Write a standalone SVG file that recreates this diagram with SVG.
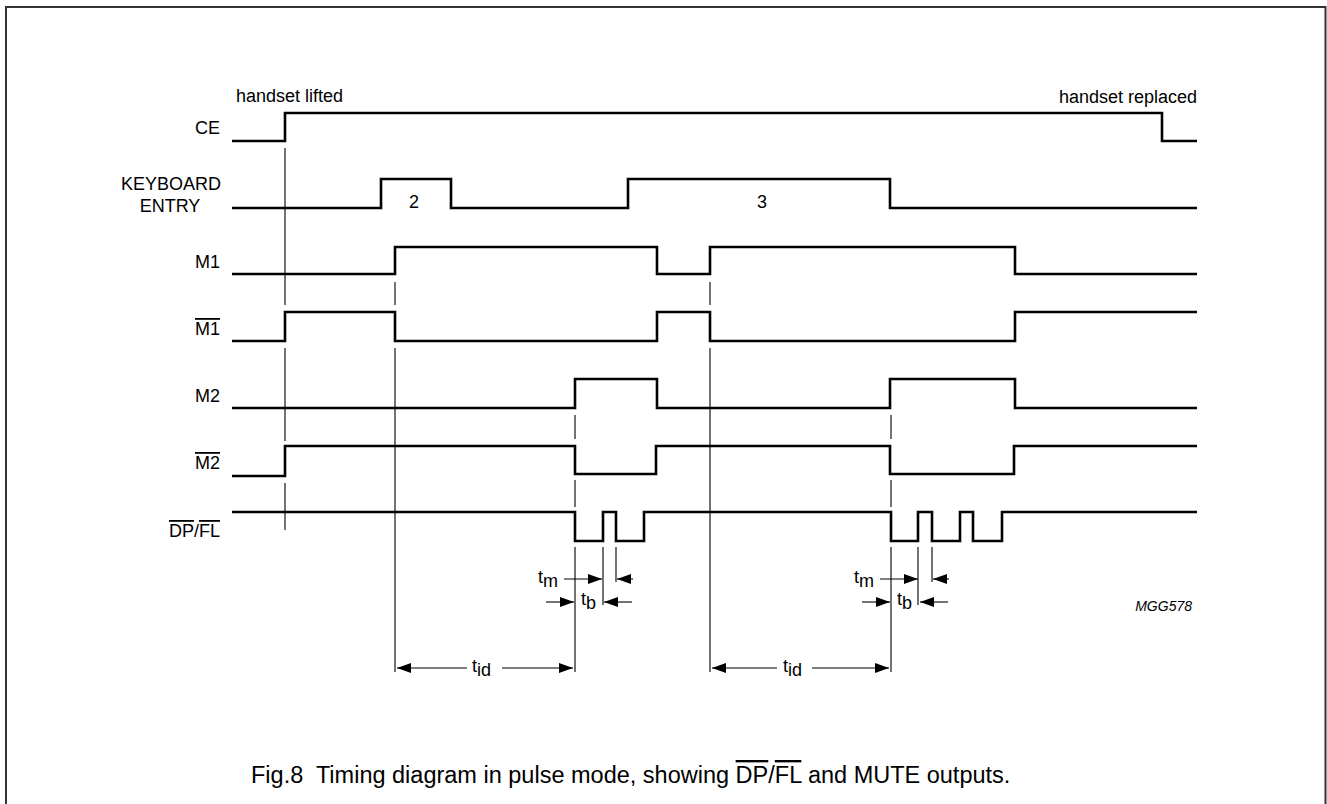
<svg xmlns="http://www.w3.org/2000/svg" width="1327" height="804" viewBox="0 0 1327 804">
<style>
text{font-family:"Liberation Sans",Arial,sans-serif;fill:#000}
.lbl{font-size:18px;text-anchor:end}
.sig{fill:none;stroke:#000;stroke-width:2.6;stroke-linejoin:miter}
.thin{fill:none;stroke:#000;stroke-width:1.1}
.ov{text-decoration:overline}
.cap{font-size:23.5px;white-space:pre}
</style>
<defs>
<marker id="ah" viewBox="0 0 14 10" refX="14" refY="5" markerWidth="14" markerHeight="10" markerUnits="userSpaceOnUse" orient="auto">
<path d="M0,0 L14,5 L0,10 Z" fill="#000"/>
</marker>
</defs>
<rect width="1327" height="804" fill="#fff"/>
<path d="M6,804 V7 H1325.5 V804" fill="none" stroke="#333" stroke-width="2"/>

<g id="ce">
<text class="lbl" x="220" y="134">CE</text>
<text x="236" y="102" font-size="18">handset lifted</text>
<text x="1197" y="103" font-size="18" text-anchor="end">handset replaced</text>
<polyline class="sig" points="232,141 285,141 285,113 1162,113 1162,141 1197,141"/>
</g>
<g id="keyboard">
<text x="171" y="190" font-size="18" text-anchor="middle">KEYBOARD</text>
<text x="170" y="212" font-size="18" text-anchor="middle">ENTRY</text>
<polyline class="sig" points="232,208 381,208 381,179 451,179 451,208 628,208 628,179 890,179 890,208 1197,208"/>
<text x="414" y="208" font-size="18" text-anchor="middle">2</text>
<text x="762" y="208" font-size="18" text-anchor="middle">3</text>
</g>
<g id="m1">
<text class="lbl" x="220" y="268">M1</text>
<polyline class="sig" points="232,274 395,274 395,247 657,247 657,274 710,274 710,247 1015,247 1015,274 1197,274"/>
</g>
<g id="m1bar">
<text class="lbl ov" x="220" y="335">M1</text>
<polyline class="sig" points="232,341 285,341 285,312 395,312 395,341 657,341 657,312 710,312 710,341 1015,341 1015,312 1197,312"/>
</g>
<g id="m2">
<text class="lbl" x="220" y="402">M2</text>
<polyline class="sig" points="232,408 575,408 575,379 657,379 657,408 890,408 890,379 1015,379 1015,408 1197,408"/>
</g>
<g id="m2bar">
<text class="lbl ov" x="220" y="469">M2</text>
<polyline class="sig" points="232,476 285,476 285,446 575,446 575,474 656,474 656,446 890,446 890,474 1014,474 1014,446 1197,446"/>
</g>
<g id="dpfl">
<text class="lbl" x="220" y="537"><tspan class="ov">DP</tspan>/<tspan class="ov">FL</tspan></text>
<polyline class="sig" points="232,512 575,512 575,541 603,541 603,512 616,512 616,541 644,541 644,512 891,512 891,541 918,541 918,512 932,512 932,541 960,541 960,512 973,512 973,541 1002,541 1002,512 1197,512"/>
</g>

<g id="connectors">
<path class="thin" d="M285,148 V305 M285,348 V441 M285,483 V530
M395,282 V305 M395,348 V672 M710,282 V305 M710,348 V672
M575,415 V439 M575,480 V507 M575,547 V672
M891,415 V439 M891,480 V507 M891,547 V672
M603,547 V605 M616,547 V582 M918,547 V605 M932,547 V582"/>
<g class="thin" marker-end="url(#ah)">
<line x1="564" y1="579" x2="602" y2="579"/>
<line x1="633" y1="579" x2="617" y2="579"/>
<line x1="546" y1="602" x2="574" y2="602"/>
<line x1="632" y1="602" x2="604" y2="602"/>
<line x1="880" y1="579" x2="918" y2="579"/>
<line x1="949" y1="579" x2="933" y2="579"/>
<line x1="862" y1="602" x2="890" y2="602"/>
<line x1="948" y1="602" x2="920" y2="602"/>
<line x1="467" y1="668" x2="397" y2="668"/>
<line x1="502" y1="668" x2="573" y2="668"/>
<line x1="777" y1="668" x2="712" y2="668"/>
<line x1="812" y1="668" x2="889" y2="668"/>
</g>
<g font-size="18">
<text x="538" y="583">t<tspan dy="4">m</tspan></text>
<text x="581" y="605">t<tspan dy="4">b</tspan></text>
<text x="854" y="583">t<tspan dy="4">m</tspan></text>
<text x="897" y="605">t<tspan dy="4">b</tspan></text>
<text x="472" y="672">t<tspan dy="4">id</tspan></text>
<text x="783" y="672">t<tspan dy="4">id</tspan></text>
</g>
</g>
<text x="1192" y="611" font-size="14" font-style="italic" text-anchor="end">MGG578</text>
<text class="cap" x="251" y="783">Fig.8  Timing diagram in pulse mode, showing <tspan class="ov">DP</tspan>/<tspan class="ov">FL</tspan> and MUTE outputs.</text>
</svg>
